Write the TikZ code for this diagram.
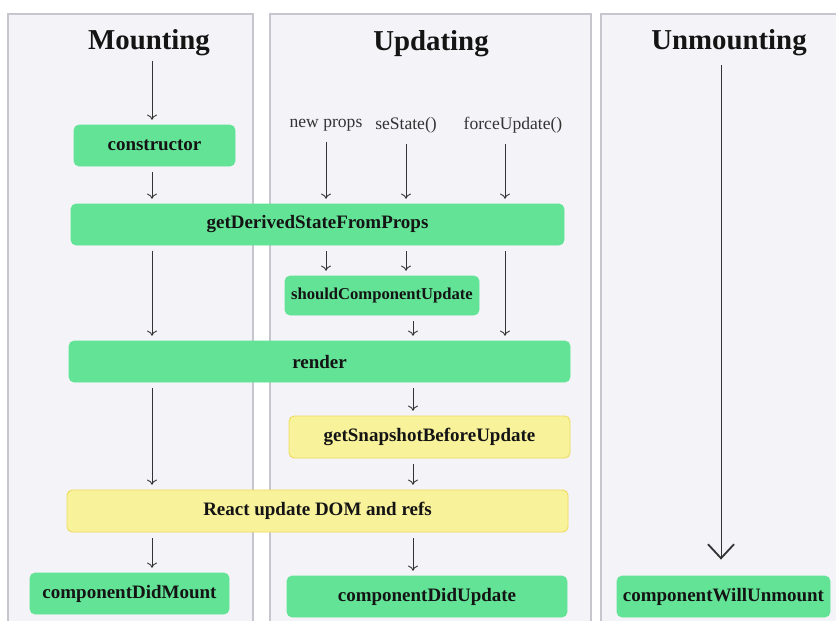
\documentclass[tikz,border=0pt]{standalone}
\usepackage{fontspec}
\setmainfont{Liberation Serif}
\usepackage{xcolor}
\usetikzlibrary{positioning}
\usetikzlibrary{arrows.meta}
\usetikzlibrary{fit}

\definecolor{panelbg}{HTML}{F4F4F8}
\definecolor{panelline}{HTML}{C6C6CE}
\definecolor{hookgreen}{HTML}{62E396}
\definecolor{hookyellow}{HTML}{F8F29B}
\definecolor{yellowline}{HTML}{EFD95C}
\definecolor{ink}{HTML}{141414}
\definecolor{arrowgray}{HTML}{333333}

\newcommand{\boxfont}{\fontsize{13.5}{16}\selectfont\bfseries}

\begin{document}
\begin{tikzpicture}[%
  x=0.025cm, y=-0.025cm,
  >={To[length=1.3mm,width=2.5mm]},
  panel/.style={draw=panelline, fill=panelbg, line width=0.8pt},
  phase/.style={font=\fontsize{20.5}{24}\selectfont\bfseries, text=ink},
  trigger/.style={font=\fontsize{12.5}{15}\selectfont, text=arrowgray},
  hook/.style={draw=hookgreen, fill=hookgreen, rounded corners=1.3mm, inner sep=0pt, line width=0.6pt},
  dom/.style={draw=yellowline, fill=hookyellow, rounded corners=1.3mm, inner sep=0pt, line width=0.6pt},
  every label/.style={font=\boxfont, text=ink},
  flow/.style={->, draw=arrowgray, line width=0.65pt, shorten <=1.5mm, shorten >=1.2mm},
]
\useasboundingbox (0,0) rectangle (836,620);
\fill[white] (0,0) rectangle (836,620);

% three columns
\draw[panel] (8,14) rectangle (253,640);
\draw[panel] (270,14) rectangle (591,640);
\draw[panel] (601,14) rectangle (850,640);

\node[phase] (mount) at (149,43) {Mounting};
\node[phase] (update) at (431,44) {Updating};
\node[phase] (unmount) at (729,43) {Unmounting};

\coordinate (mcol) at (152,0);
\coordinate (ucol) at (413,0);
\coordinate (fcol) at (505,0);
\coordinate (wcol) at (721,0);

\node[trigger] (np) at (326,125) {new props};
\node[trigger] (ss) at (406,125) {seState()};
\node[trigger] (fu) at (513,125) {forceUpdate()};

\node[hook, fit={(74,125) (235,166)}, label=center:constructor] (ctor) {};
\node[hook, fit={(71,204) (564,245)}, label=center:getDerivedStateFromProps] (gdsfp) {};
\node[hook, fit={(285,276) (479,315)}, label={[font=\fontsize{11.8}{14}\selectfont\bfseries]center:shouldComponentUpdate}] (scu) {};
\node[hook, fit={(69,341) (570,382)}, label=center:render] (render) {};
\node[dom, fit={(289,416) (570,458)}, label=center:getSnapshotBeforeUpdate] (gsbu) {};
\node[dom, fit={(67,490) (568,532)}, label=center:React update DOM and refs] (react) {};
\node[hook, fit={(30,573) (229,614)}, label=center:componentDidMount] (cdm) {};
\node[hook, fit={(287,576) (567,617)}, label=center:componentDidUpdate] (cdu) {};
\node[hook, fit={(617,576) (830,617)}, label=center:componentWillUnmount] (cwu) {};

% mounting
\draw[flow, shorten <=0mm] (mount.south -| mcol) -- (ctor.north -| mcol);
\draw[flow] (ctor.south -| mcol) -- (gdsfp.north -| mcol);
\draw[flow] (gdsfp.south -| mcol) -- (render.north -| mcol);
\draw[flow] (render.south -| mcol) -- (react.north -| mcol);
\draw[flow] (react.south -| mcol) -- (cdm.north -| mcol);

% updating
\draw[flow] (np.south) -- (gdsfp.north -| np);
\draw[flow] (ss.south) -- (gdsfp.north -| ss);
\draw[flow] (fu.south -| fcol) -- (gdsfp.north -| fcol);
\draw[flow] (gdsfp.south -| np) -- (scu.north -| np);
\draw[flow] (gdsfp.south -| ss) -- (scu.north -| ss);
\draw[flow] (gdsfp.south -| fcol) -- (render.north -| fcol);
\draw[flow] (scu.south -| ucol) -- (render.north -| ucol);
\draw[flow] (render.south -| ucol) -- (gsbu.north -| ucol);
\draw[flow] (gsbu.south -| ucol) -- (react.north -| ucol);
\draw[flow] (react.south -| ucol) -- (cdu.north -| ucol);

% unmounting
\draw[draw=arrowgray, line width=0.65pt, shorten <=1mm, shorten >=4mm,
  -{Straight Barb[length=3.5mm,width=6.5mm,line width=1.3pt]}]
  (unmount.south -| wcol) -- (cwu.north -| wcol);
\end{tikzpicture}
\end{document}
